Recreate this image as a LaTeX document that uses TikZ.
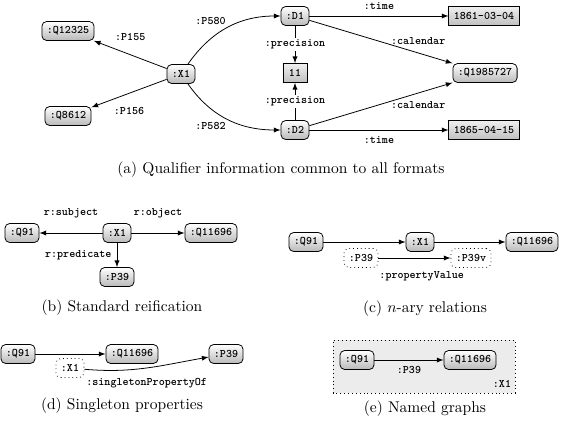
\documentclass[tikz,border=0pt]{standalone}
\usepackage{amsmath}
\usepackage{tikz}
\newcommand{\ttlbl}{\fontsize{7.4}{9}\selectfont\ttfamily\bfseries}

\begin{document}
\begin{tikzpicture}[x=0.644pt,y=0.644pt,>=latex,line width=0.5pt]
\tikzstyle{res}=[rectangle,draw,rounded corners=3pt,top color=white,bottom color=gray!55,font=\ttlbl,inner xsep=3.2pt,inner ysep=0pt,minimum height=12.2pt]
\tikzstyle{lit}=[rectangle,draw,top color=gray!12,bottom color=gray!50,font=\ttlbl,inner xsep=3.2pt,inner ysep=0pt,minimum height=12.2pt]
\tikzstyle{bnode}=[rectangle,draw,dotted,rounded corners=3pt,fill=white,font=\ttlbl,inner xsep=3.2pt,inner ysep=0pt,minimum height=12.2pt]
\tikzstyle{lab}=[font=\ttlbl,inner sep=1pt]
\tikzstyle{subcap}=[font=\normalsize,inner sep=0pt]
\useasboundingbox (0,0) rectangle (562,420);

% (a) qualifiers
\node[res] (x1) at (181,346) {:X1};
\node[res] (q12325) at (68,389) {:Q12325};
\node[res] (q8612) at (68,304) {:Q8612};
\node[res] (d1) at (295,404) {:D1};
\node[res] (d2) at (295,290) {:D2};
\node[lit,minimum width=15.5pt] (prec) at (295,347) {11};
\node[lit] (time1) at (484,404) {1861-03-04};
\node[lit] (time2) at (484,290) {1865-04-15};
\node[res] (cal) at (485,347) {:Q1985727};
\draw[->] (x1) -- node[lab,midway,above=8pt]{:P155} (q12325);
\draw[->] (x1) -- node[lab,midway,below=8pt]{:P156} (q8612);
\draw[->] (x1) to[out=55,in=180] node[lab,pos=0.3,above=8pt]{:P580} (d1);
\draw[->] (x1) to[out=-55,in=180] node[lab,pos=0.3,below=8pt]{:P582} (d2);
\draw[->] (d1) -- node[lab,midway,fill=white]{:precision} (prec);
\draw[->] (d2) -- node[lab,midway,fill=white]{:precision} (prec);
\draw[->] (d1) -- node[lab,midway,above=3pt]{:time} (time1);
\draw[->] (d2) -- node[lab,midway,below=3pt]{:time} (time2);
\draw[->] (d1) -- node[lab,pos=0.76,above=4pt]{:calendar} (cal);
\draw[->] (d2) -- node[lab,pos=0.76,below=4pt]{:calendar} (cal);
\node[subcap] (capa) at (281,250) {(a) Qualifier information common to all formats};

% (b) reification
\node[res] (x1b) at (117,187) {:X1};
\node[res] (q91b) at (22,187) {:Q91};
\node[res] (q11696b) at (211,187) {:Q11696};
\node[res] (p39b) at (117,143) {:P39};
\draw[->] (x1b) -- node[lab,midway,above=8.5pt]{r:subject} (q91b);
\draw[->] (x1b) -- node[lab,midway,above=8.5pt]{r:object} (q11696b);
\draw[->] (x1b) -- node[lab,midway,left=2.3pt]{r:predicate} (p39b);
\node[subcap] (capb) at (122,112) {(b) Standard reification};

% (c) n-ary
\node[res] (q91c) at (306,178) {:Q91};
\node[res] (x1c) at (420,178) {:X1};
\node[res] (q11696c) at (532,178) {:Q11696};
\node[bnode] (p39c) at (361,162) {:P39};
\node[bnode] (p39v) at (471,162) {:P39v};
\draw[->] (q91c) -- (x1c);
\draw[->] (x1c) -- (q11696c);
\draw[->] (p39c) -- node[lab,pos=0.6,below=7.5pt]{:propertyValue} (p39v);
\node[subcap] (capc) at (425,111) {(c) $n$-ary relations};

% (d) singleton
\node[res] (q91d) at (18,66) {:Q91};
\node[res] (q11696d) at (132,66) {:Q11696};
\node[res] (p39d) at (226,66) {:P39};
\node[bnode] (x1d) at (70,52) {:X1};
\draw[->] (q91d) -- (q11696d);
\draw[->] (x1d) to[out=-5,in=190] node[lab,pos=0.5,below=5.5pt]{:singletonPropertyOf} (p39d);
\node[subcap] (capd) at (122,14) {(d) Singleton properties};

% (e) named graph
\draw[dotted,fill=gray!15] (333,27) rectangle (515,80);
\node[res] (q91e) at (357,60) {:Q91};
\node[res] (q11696e) at (470,60) {:Q11696};
\node[lab] (gname) at (502,36) {:X1};
\draw[->] (q91e) -- node[lab,midway,below=3pt]{:P39} (q11696e);
\node[subcap] (cape) at (425,11) {(e) Named graphs};
\end{tikzpicture}
\end{document}
